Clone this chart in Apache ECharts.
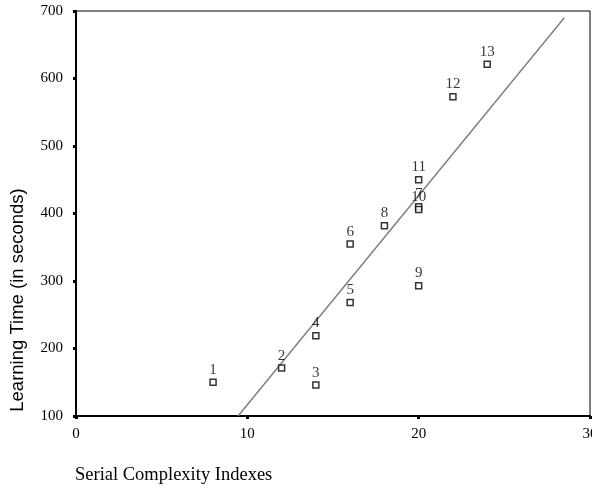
<!DOCTYPE html>
<html>
<head>
<meta charset="utf-8">
<script src="https://cdn.jsdelivr.net/npm/echarts@6/dist/echarts.min.js"></script>
<style>html,body{margin:0;padding:0;background:#fff}#c{width:592px;height:491px}</style>
</head>
<body>
<div id="c"></div>
<script>
const pointIds = ['1','2','3','4','5','6','7','8','9','10','11','12','13'];
const complexity = [8, 12, 14, 14, 16, 16, 20, 18, 20, 20, 20, 22, 24];
const learningTime = [150, 171, 146, 219, 268, 355, 410, 382, 293, 406, 450, 573, 621];
const fitX = [9.46, 28.5];
const fitY = [100, 690];
const xTicks = [0, 10, 20, 30];
const yTicks = [100, 200, 300, 400, 500, 600, 700];
const xTitle = 'Serial Complexity Indexes';
const yTitle = 'Learning Time (in seconds)';

const chart = echarts.init(document.getElementById('c'), null, {renderer: 'canvas'});
const serif = '"Liberation Serif", "Times New Roman", serif';
chart.setOption({
  animation: false,
  backgroundColor: '#fff',
  grid: {left: 76, right: 2, top: 11, bottom: 75, show: true, borderColor: '#000', borderWidth: 1,
         containLabel: false, outerBoundsMode: 'none'},
  xAxis: {
    type: 'value', min: xTicks[0], max: xTicks[xTicks.length-1], interval: 10,
    splitLine: {show: false},
    axisLine: {onZero: false, lineStyle: {color: '#000', width: 2}},
    axisTick: {length: 3, lineStyle: {color: '#000', width: 3}},
    axisLabel: {color: '#000', fontFamily: serif, fontSize: 15, margin: 11, hideOverlap: false}
  },
  yAxis: {
    type: 'value', min: yTicks[0], max: yTicks[yTicks.length-1], interval: 100,
    splitLine: {show: false},
    axisLine: {onZero: false, lineStyle: {color: '#000', width: 2}},
    axisTick: {length: 3, lineStyle: {color: '#000', width: 3}},
    axisLabel: {color: '#000', fontFamily: serif, fontSize: 15, margin: 13}
  },
  graphic: [
    {type: 'text', left: 75, top: 466, style: {text: xTitle, font: '18.5px ' + serif, fill: '#000'}},
    {type: 'text', x: 8, y: 300, rotation: Math.PI/2,
     style: {text: yTitle, font: '18.5px "Liberation Sans", Arial, sans-serif', fill: '#000', align: 'center', verticalAlign: 'top'}}
  ],
  series: [
    {
      type: 'line', data: fitX.map((x, i) => [x, fitY[i]]), symbol: 'none',
      lineStyle: {color: '#808080', width: 1.5}, z: 1, silent: true
    },
    {
      type: 'scatter', symbol: 'rect', symbolSize: 6,
      data: complexity.map((x, i) => [x, learningTime[i], pointIds[i]]),
      itemStyle: {color: '#fff', borderColor: '#000', borderWidth: 1.5},
      label: {show: true, position: 'top', distance: 1, formatter: p => p.value[2],
        color: '#000', fontFamily: serif, fontSize: 15},
      z: 3
    }
  ]
});
</script>
</body>
</html>
